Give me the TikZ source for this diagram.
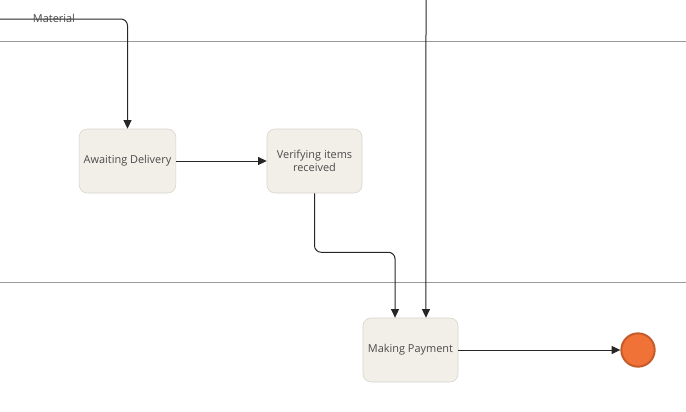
\documentclass[tikz,border=0pt]{standalone}
\usepackage{fontspec}
\setmainfont{Open Sans}
\usetikzlibrary{arrows.meta}
\definecolor{boxfill}{HTML}{F1EFE8}
\definecolor{boxline}{HTML}{D6D3CB}
\definecolor{textgray}{HTML}{4A4A4A}
\definecolor{lanegray}{HTML}{9A9A9A}
\definecolor{endfill}{HTML}{F07236}
\definecolor{endline}{HTML}{C55A2A}

\begin{document}
\begin{tikzpicture}[x=0.75pt, y=-0.75pt,
    state/.style={draw=boxline, fill=boxfill, rounded corners=6pt,
      minimum width=71.25pt, minimum height=48pt, align=center,
      text=textgray, font=\fontsize{8.2}{10.2}\selectfont},
    flow/.style={draw=black!85, line width=0.75pt, rounded corners=5pt,
      -{Triangle[width=6pt,length=6.5pt]}},
    lane/.style={draw=lanegray, line width=0.75pt}]
            \useasboundingbox (0,0) rectangle (686,411);
            % swimlane borders
            \draw[lane] (0,41) -- (686,41);
            \draw[lane] (0,282) -- (686,282);
            % states
            \node[state] (await) at (127.5,161) {Awaiting Delivery};
            \node[state] (verify) at (314.5,161) {Verifying items\\received};
            \node[state] (pay) at (410.5,350) {Making Payment};
            \node[circle, draw=endline, fill=endfill, line width=1.5pt,
              minimum size=25pt, inner sep=0pt] (end) at (638,350) {};
            % transitions
            \coordinate (matIn) at (0,19);
            \coordinate (payTop) at (426,0);
            \draw[flow] (matIn) -| (await.north);
            \node[text=textgray, font=\fontsize{8.2}{10}\selectfont] (matLabel) at (54,18) {Material};
            \draw[flow] (await) -- (verify);
            \draw[flow] (verify.south) -- ++(0,59) -| ([xshift=-11.6pt]pay.north);
            \draw[flow] (payTop) -- ([xshift=11.6pt]pay.north);
            \draw[flow] (pay) -- (end);
        \end{tikzpicture}
\end{document}
